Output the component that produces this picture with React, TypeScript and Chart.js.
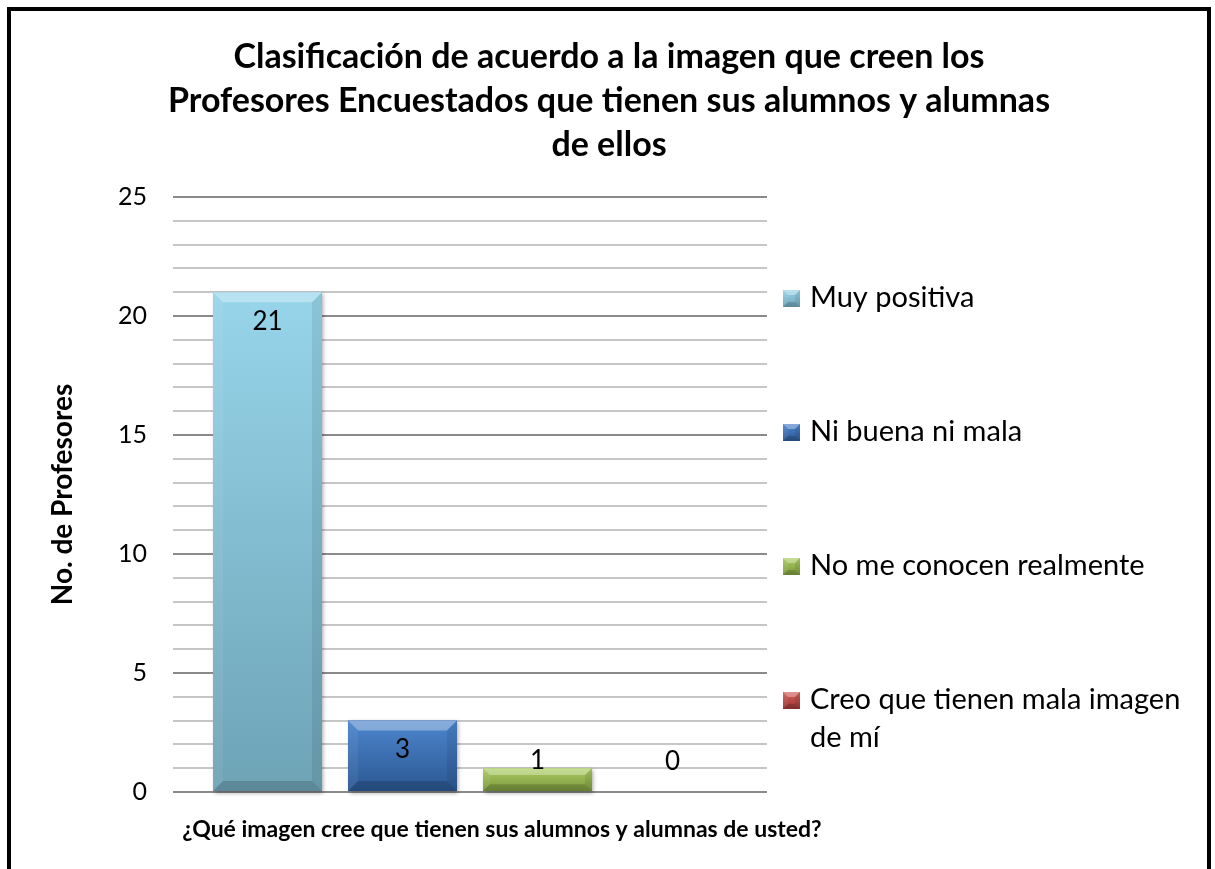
import React, { useEffect, useRef } from 'react';
import { Chart, registerables } from 'chart.js';

Chart.register(...registerables);

// ---- Data ----
const CATEGORIES: string[] = [''];
const SERIES_LABELS: string[] = [
  'Muy positiva',
  'Ni buena ni mala',
  'No me conocen realmente',
  'Creo que tienen mala imagen de mí',
];
const SERIES_VALUES: number[] = [21, 3, 1, 0];
const Y_MIN = 0;
const Y_MAX = 25;
const Y_STEP = 1;
const Y_LABEL_EVERY = 5;
const TITLE_LINES: string[] = [
  'Clasificación de acuerdo a la imagen que creen los',
  'Profesores Encuestados que tienen sus alumnos y alumnas',
  'de ellos',
];
const Y_TITLE = 'No. de Profesores';
const X_TITLE = '¿Qué imagen cree que tienen sus alumnos y alumnas de usted?';

// ---- Styles ----
const SERIES_COLORS = [
  { top: '#97d5ea', bottom: '#6ea3b6', mid: '#83bdd1' },
  { top: '#4c85cd', bottom: '#2c5893', mid: '#3b6fb3' },
  { top: '#abcd62', bottom: '#7b973c', mid: '#94b54f' },
  { top: '#d45f5b', bottom: '#993533', mid: '#c0504d' },
];
const FONT = 'Lato, "Open Sans", sans-serif';
const GRID_MAJOR = '#8a8a8a';
const GRID_MINOR = '#c6c6c6';

function drawBevelRect(
  ctx: CanvasRenderingContext2D,
  left: number,
  top: number,
  right: number,
  bottom: number,
  col: { top: string; bottom: string },
  bevel: number,
  shadow: boolean
) {
  const w = right - left;
  const h = bottom - top;
  if (w <= 0 || h <= 0) return;
  ctx.save();
  const g = ctx.createLinearGradient(0, top, 0, bottom);
  g.addColorStop(0, col.top);
  g.addColorStop(1, col.bottom);
  if (shadow) {
    ctx.shadowColor = 'rgba(0,0,0,0.35)';
    ctx.shadowBlur = 4;
    ctx.shadowOffsetX = 1.5;
    ctx.shadowOffsetY = 1.5;
  }
  ctx.fillStyle = g;
  ctx.fillRect(left, top, w, h);
  ctx.shadowColor = 'transparent';
  const b = Math.min(bevel, h * 0.3, w * 0.3);
  const poly = (pts: number[][], color: string) => {
    ctx.beginPath();
    ctx.moveTo(pts[0][0], pts[0][1]);
    for (let i = 1; i < pts.length; i++) ctx.lineTo(pts[i][0], pts[i][1]);
    ctx.closePath();
    ctx.fillStyle = color;
    ctx.fill();
  };
  poly([[left, top], [right, top], [right - b, top + b], [left + b, top + b]], 'rgba(255,255,255,0.32)');
  poly([[left, top], [left + b, top + b], [left + b, bottom - b], [left, bottom]], 'rgba(255,255,255,0.06)');
  poly([[right, top], [right, bottom], [right - b, bottom - b], [right - b, top + b]], 'rgba(0,0,0,0.08)');
  poly([[left, bottom], [left + b, bottom - b], [right - b, bottom - b], [right, bottom]], 'rgba(0,0,0,0.16)');
  ctx.restore();
}

const decorPlugin = {
  id: 'decor',
  afterDatasetsDraw(chart: any) {
    const ctx: CanvasRenderingContext2D = chart.ctx;
    chart.data.datasets.forEach((ds: any, di: number) => {
      const meta = chart.getDatasetMeta(di);
      meta.data.forEach((el: any, i: number) => {
        const p = el.getProps(['x', 'y', 'base', 'width'], true);
        const left = p.x - p.width / 2;
        const right = p.x + p.width / 2;
        const top = Math.min(p.y, p.base);
        const bottom = Math.max(p.y, p.base);
        drawBevelRect(ctx, left, top, right, bottom, SERIES_COLORS[di], 10, true);
        const v = ds.data[i];
        ctx.save();
        ctx.font = `26px ${FONT}`;
        ctx.fillStyle = '#000';
        ctx.textAlign = 'center';
        ctx.textBaseline = 'middle';
        const ly = Math.min(top + 29, p.base - 30);
        ctx.fillText(String(v), p.x, ly);
        ctx.restore();
      });
    });
  },
  afterDraw(chart: any) {
    const ctx: CanvasRenderingContext2D = chart.ctx;
    const area = chart.chartArea;
    const W = chart.width;
    ctx.save();
    ctx.fillStyle = '#000';
    // Title
    ctx.font = `bold 34px ${FONT}`;
    ctx.textAlign = 'center';
    ctx.textBaseline = 'middle';
    TITLE_LINES.forEach((line, i) => {
      ctx.fillText(line, W / 2, 46 + i * 44);
    });
    // Y title
    ctx.save();
    ctx.font = `bold 28px ${FONT}`;
    ctx.translate(52, (area.top + area.bottom) / 2);
    ctx.rotate(-Math.PI / 2);
    ctx.fillText(Y_TITLE, 0, 0);
    ctx.restore();
    // X title
    ctx.font = `bold 23px ${FONT}`;
    ctx.fillText(X_TITLE, (area.left + area.right) / 2 + 32, area.bottom + 38);
    // Legend
    const lx = area.right + 16;
    const startY = area.top + 101;
    const step = 134;
    const maxW = W - (lx + 27) - 4;
    ctx.font = `29px ${FONT}`;
    ctx.textAlign = 'left';
    chart.data.datasets.forEach((ds: any, di: number) => {
      const cy = startY + di * step;
      drawBevelRect(ctx, lx, cy - 8, lx + 17, cy + 9, SERIES_COLORS[di], 5, false);
      const words = String(ds.label).split(' ');
      const lines: string[] = [];
      let cur = '';
      words.forEach((w) => {
        const t = cur ? cur + ' ' + w : w;
        if (ctx.measureText(t).width > maxW && cur) {
          lines.push(cur);
          cur = w;
        } else cur = t;
      });
      if (cur) lines.push(cur);
      ctx.fillStyle = '#000';
      lines.forEach((l, li) => ctx.fillText(l, lx + 27, cy + li * 38));
    });
    ctx.restore();
  },
};

export default function App() {
  const ref = useRef<HTMLCanvasElement>(null);
  useEffect(() => {
    if (!ref.current) return;
    const chart = new Chart(ref.current, {
      type: 'bar',
      data: {
        labels: CATEGORIES,
        datasets: SERIES_LABELS.map((label, i) => ({
          label,
          data: [SERIES_VALUES[i]],
          backgroundColor: SERIES_COLORS[i].mid,
          borderWidth: 0,
          categoryPercentage: 0.909,
          barPercentage: 0.807,
        })),
      },
      options: {
        responsive: false,
        maintainAspectRatio: false,
        animation: false,
        layout: { padding: { top: 186, left: 102, right: 440, bottom: 77 } },
        plugins: {
          legend: { display: false },
          title: { display: false },
          tooltip: { enabled: false },
        },
        scales: {
          x: { display: false },
          y: {
            min: Y_MIN,
            max: Y_MAX,
            afterFit: (scale: any) => {
              scale.width = 60;
            },
            border: { display: false },
            grid: {
              drawTicks: false,
              lineWidth: 2,
              color: (c: any) => (c.tick && c.tick.value % Y_LABEL_EVERY === 0 ? GRID_MAJOR : GRID_MINOR),
            },
            ticks: {
              stepSize: Y_STEP,
              autoSkip: false,
              padding: 26,
              color: '#000',
              font: { family: FONT, size: 25 },
              callback: (v: any) => (Number(v) % Y_LABEL_EVERY === 0 ? String(v) : ''),
            },
          },
        },
      },
      plugins: [decorPlugin],
    } as any);
    return () => chart.destroy();
  }, []);
  return (
    <div
      style={{
        position: 'absolute',
        left: 7,
        top: 7,
        width: 1204,
        height: 862,
        borderLeft: '4px solid #000',
        borderTop: '4px solid #000',
        borderRight: '4px solid #000',
        boxSizing: 'border-box',
        background: '#fff',
        overflow: 'hidden',
      }}
    >
      <canvas ref={ref} width={1196} height={858} style={{ display: 'block' }} />
    </div>
  );
}
